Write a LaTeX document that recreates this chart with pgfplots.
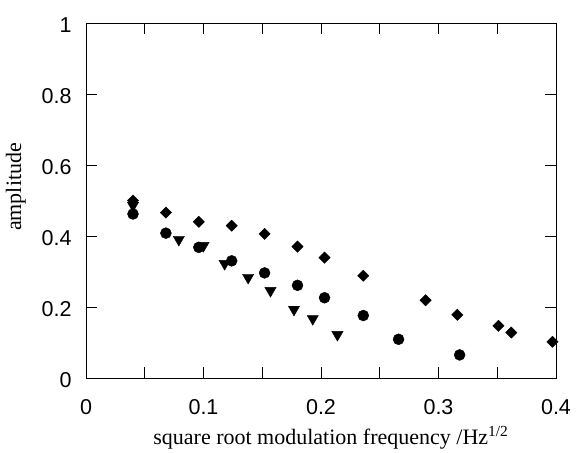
\documentclass[border=0pt]{standalone}
\usepackage{pgfplots}
\pgfplotsset{compat=1.18}
\usepackage{fontspec}
\setmainfont{Liberation Serif}
\newfontfamily\hv{Liberation Sans}
\begin{document}
\begin{tikzpicture}
\path (-86pt,-71pt) rectangle (490pt,378pt);
\begin{axis}[
 scale only axis, width=470pt, height=355pt,
 at={(0,0)}, anchor=south west,
 xmin=0, xmax=0.4, ymin=0, ymax=1,
 xtick={0,0.1,0.2,0.3,0.4}, minor xtick={0.05,0.15,0.25,0.35},
 ytick={0,0.2,0.4,0.6,0.8,1},
 xticklabels={0,0.1,0.2,0.3,0.4}, yticklabels={0,0.2,0.4,0.6,0.8,1},
 tick align=inside, major tick length=11pt, minor tick length=11pt,
 tick style={line width=0.7pt, black},
 axis line style={line width=0.8pt},
 ticklabel style={font=\hv\fontsize{21.5}{24}\selectfont},
 yticklabel style={anchor=east, xshift=-11pt, yshift=-2pt},
 xticklabel style={anchor=base, yshift=-37pt},
 label style={font=\fontsize{22}{26}\selectfont},
 xlabel={square root modulation frequency /Hz\textsuperscript{1/2}},
 ylabel={amplitude},
 xlabel style={at={(axis description cs:0.521,-0.186)}, anchor=base},
 ylabel style={at={(axis description cs:-0.138,0.538)}, anchor=base},
 clip=false,
]
\addplot[only marks, mark=triangle*, mark size=6.5pt, mark options={rotate=180, fill=black, draw=black}] coordinates {
(0.040,0.486) (0.079,0.390) (0.100,0.373) (0.118,0.322) (0.138,0.283)
(0.157,0.246) (0.177,0.193) (0.193,0.167) (0.214,0.122)};
\addplot[only marks, mark=*, mark size=5.5pt, mark options={fill=black, draw=black}] coordinates {
(0.040,0.462) (0.068,0.408) (0.096,0.368) (0.124,0.330) (0.152,0.296)
(0.180,0.261) (0.203,0.226) (0.236,0.176) (0.266,0.109) (0.318,0.065)};
\addplot[only marks, mark=square*, mark size=4pt, mark options={rotate=45, fill=black, draw=black}] coordinates {
(0.040,0.500) (0.068,0.466) (0.096,0.440) (0.124,0.429) (0.152,0.406)
(0.180,0.370) (0.203,0.339) (0.236,0.288) (0.289,0.219) (0.316,0.178)
(0.351,0.147) (0.362,0.128) (0.397,0.102)};
\end{axis}
\end{tikzpicture}
\end{document}
